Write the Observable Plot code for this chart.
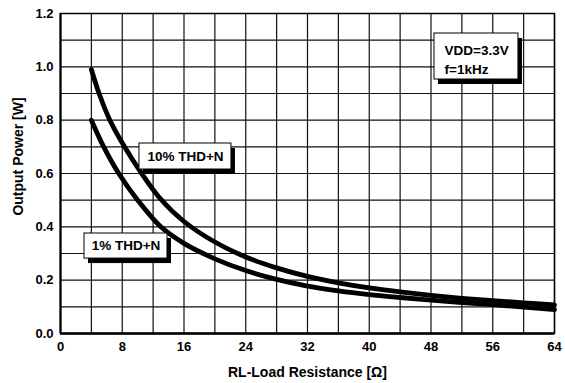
<!DOCTYPE html>
<html><head><meta charset="utf-8">
<script src="https://cdn.jsdelivr.net/npm/d3@7"></script>
<script src="https://cdn.jsdelivr.net/npm/@observablehq/plot@0.6"></script>
<style>body{margin:0;background:#fff} svg{display:block}</style>
</head><body><div id="chart"></div>
<script>
// 10% THD+N curve
const load10 = [4, 5, 6.4, 8.3, 10.4, 12.8, 16, 20, 24, 28, 32, 36, 40, 44, 48, 52, 56, 60, 64];
const power10 = [0.99, 0.90, 0.80, 0.70, 0.605, 0.51, 0.42, 0.343, 0.287, 0.246, 0.214, 0.19, 0.171, 0.156, 0.143, 0.132, 0.123, 0.115, 0.107];
// 1% THD+N curve
const load1 = [4, 5.6, 7.55, 10, 13, 16, 20, 24, 28, 32, 36, 40, 44, 48, 52, 56, 60, 64];
const power1 = [0.80, 0.70, 0.60, 0.50, 0.40, 0.338, 0.28, 0.236, 0.203, 0.178, 0.16, 0.146, 0.135, 0.125, 0.116, 0.108, 0.099, 0.09];

const xTicks = [0, 8, 16, 24, 32, 40, 48, 56, 64];
const yTicks = [0, 0.2, 0.4, 0.6, 0.8, 1.0, 1.2];
const xGrid = [0, 4, 8, 12, 16, 20, 24, 28, 32, 36, 40, 44, 48, 52, 56, 60, 64];
const yGrid = [0, 0.1, 0.2, 0.3, 0.4, 0.5, 0.6, 0.7, 0.8, 0.9, 1.0, 1.1, 1.2];
const seriesLabels = ["10% THD+N", "1% THD+N"];
const conditionLines = ["VDD=3.3V", "f=1kHz"];
const xTitle = "RL-Load Resistance [Ω]";
const yTitle = "Output Power [W]";

const s10 = load10.map((x, i) => ({x, y: power10[i]}));
const s1 = load1.map((x, i) => ({x, y: power1[i]}));

// annotation boxes (data coordinates)
const boxes = [
  {x1: 10.23, x2: 22.15, y1: 0.615, y2: 0.7125, text: seriesLabels[0]},
  {x1: 3.11, x2: 13.86, y1: 0.281, y2: 0.375, text: seriesLabels[1]}
];
const condBox = {x1: 48.45, x2: 59.33, y1: 0.9525, y2: 1.125};
const condText = [
  {x: 49.75, y: 1.061, text: conditionLines[0]},
  {x: 49.75, y: 0.99, text: conditionLines[1]}
];

const font = "'Liberation Sans', Arial, Helvetica, sans-serif";

const chart = Plot.plot({
  width: 565,
  height: 383,
  marginLeft: 60,
  marginRight: 11,
  marginTop: 13,
  marginBottom: 50,
  style: {fontFamily: font, background: "#fff", color: "#000"},
  x: {domain: [0, 64], axis: null},
  y: {domain: [0, 1.2], axis: null},
  marks: [
    Plot.ruleX(xGrid, {stroke: "#111", strokeWidth: 1.2}),
    Plot.ruleY(yGrid, {stroke: "#111", strokeWidth: 1.2}),
    Plot.frame({stroke: "#000", strokeWidth: 1.5}),
    Plot.ruleY([0], {stroke: "#000", strokeWidth: 2.5}),
    Plot.ruleX([0], {stroke: "#000", strokeWidth: 2}),
    Plot.line(s10, {x: "x", y: "y", stroke: "#000", strokeWidth: 4.8, curve: "catmull-rom", strokeLinecap: "round"}),
    Plot.line(s1, {x: "x", y: "y", stroke: "#000", strokeWidth: 4.8, curve: "catmull-rom", strokeLinecap: "round"}),
    // shadows
    Plot.rect(boxes, {x1: "x1", x2: "x2", y1: "y1", y2: "y2", fill: "#000", dx: 4, dy: 5}),
    Plot.rect([condBox], {x1: "x1", x2: "x2", y1: "y1", y2: "y2", fill: "#000", dx: 4, dy: 5}),
    Plot.rect(boxes, {x1: "x1", x2: "x2", y1: "y1", y2: "y2", fill: "#fff", stroke: "#000", strokeWidth: 1}),
    Plot.rect([condBox], {x1: "x1", x2: "x2", y1: "y1", y2: "y2", fill: "#fff", stroke: "#000", strokeWidth: 1}),
    Plot.text(boxes, {x: d => (d.x1 + d.x2) / 2, y: d => (d.y1 + d.y2) / 2, text: "text", fontSize: 13.5, fontWeight: "bold", fill: "#000"}),
    Plot.text(condText, {x: "x", y: "y", text: "text", textAnchor: "start", fontSize: 13.5, fontWeight: "bold", fill: "#000"}),
    Plot.axisX(xTicks, {tickSize: 0, tickPadding: 8, fontSize: 13, fontWeight: "bold", label: null, fill: "#000"}),
    Plot.axisY(yTicks, {tickSize: 0, tickPadding: 7, fontSize: 13, fontWeight: "bold", label: null, fill: "#000", tickFormat: d => d.toFixed(1)}),
    Plot.text([xTitle], {frameAnchor: "bottom", textAnchor: "middle", lineAnchor: "middle", dy: 39.5, fontSize: 14, fontWeight: "bold", fill: "#000"}),
    Plot.text([yTitle], {frameAnchor: "left", textAnchor: "middle", lineAnchor: "middle", dx: -42, dy: -17, rotate: -90, fontSize: 14, fontWeight: "bold", fill: "#000"})
  ]
});
document.getElementById("chart").appendChild(chart);
</script>
</body></html>
